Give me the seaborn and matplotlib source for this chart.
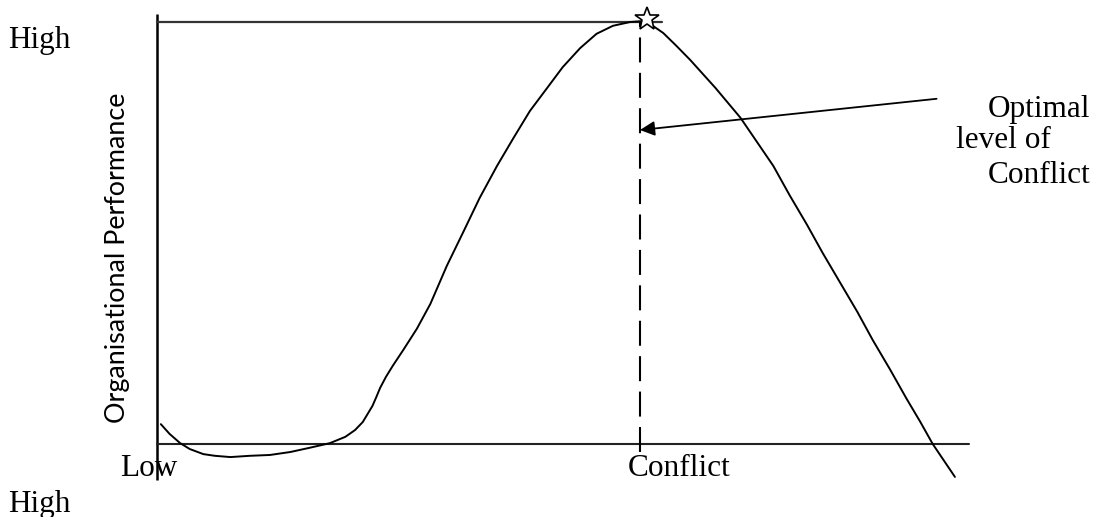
import matplotlib
matplotlib.use("Agg")
import matplotlib.pyplot as plt
import pandas as pd
import seaborn as sns

sns.set_theme(style="white")
plt.rcParams["font.family"] = ["Liberation Serif", "DejaVu Serif"]
plt.rcParams["text.color"] = "black"

# conflict level (0 = low, 5 = optimal) vs organisational performance (0..10)
conflict_level = [0.04, 0.13, 0.24, 0.34, 0.48, 0.60, 0.76, 0.96, 1.17, 1.38,
                  1.58, 1.79, 1.95, 2.05, 2.13, 2.18, 2.23, 2.27, 2.31, 2.37,
                  2.44, 2.55, 2.69, 2.83, 3.00, 3.17, 3.34, 3.52, 3.69, 3.86,
                  4.04, 4.20, 4.38, 4.55, 4.72, 4.90, 5.02, 5.12, 5.24, 5.37,
                  5.52, 5.78, 6.04, 6.21, 6.38, 6.55, 6.73, 6.89, 7.07, 7.25,
                  7.41, 7.59, 7.76, 7.90, 8.03, 8.26]
performance = [0.47, 0.24, 0.02, -0.12, -0.24, -0.28, -0.31, -0.28, -0.26, -0.19,
               -0.09, 0.02, 0.17, 0.33, 0.52, 0.71, 0.90, 1.11, 1.33, 1.59,
               1.85, 2.23, 2.73, 3.32, 4.22, 5.02, 5.83, 6.59, 7.25, 7.89,
               8.44, 8.93, 9.38, 9.72, 9.91, 10.00, 10.02, 9.93, 9.74, 9.45,
               9.10, 8.44, 7.73, 7.16, 6.59, 5.89, 5.19, 4.53, 3.83, 3.13,
               2.46, 1.76, 1.07, 0.53, 0.00, -0.78]
optimal_conflict = 5.0
peak_performance = 10.0

y_label = "Organisational Performance"
note_lines = ["Optimal", "level of", "Conflict"]

df = pd.DataFrame({"conflict": conflict_level, "performance": performance})

fig = plt.figure(figsize=(10.98, 5.17), dpi=100)
ax = fig.add_axes([0, 0, 1, 1])
ax.set_xlim(-1.625, 9.741)
ax.set_ylim(-1.730, 10.521)
ax.axis("off")

# frame lines
ax.plot([0, 0], [-0.85, 10.19], color="black", lw=1.8, solid_capstyle="butt")
ax.plot([0, 5.23], [peak_performance, peak_performance], color="#333333", lw=1.6)
ax.plot([0, 8.41], [0, 0], color="#222222", lw=1.5)

# optimal conflict marker line
ax.plot([optimal_conflict, optimal_conflict], [-0.19, peak_performance],
        color="black", lw=1.5, linestyle=(0, (12, 5)))

sns.lineplot(data=df, x="conflict", y="performance", sort=False,
             estimator=None, color="black", lw=1.4, ax=ax)

ax.plot(5.07, 10.07, marker="*", ms=18, mfc="white", mec="black", mew=1.2)

ax.annotate("", xy=(optimal_conflict, 7.44), xytext=(8.07, 8.18),
            arrowprops=dict(arrowstyle="-|>", mutation_scale=22, lw=1.3,
                            color="black", shrinkA=0, shrinkB=0))

fs = 22.5
ax.text(-1.54, 9.38, "High", fontsize=fs, ha="left", va="baseline")
ax.text(-1.54, -1.60, "High", fontsize=fs, ha="left", va="baseline")
ax.text(-0.383, -0.758, "Low", fontsize=fs, ha="left", va="baseline")
ax.text(4.876, -0.758, "Conflict", fontsize=fs, ha="left", va="baseline")
ax.text(8.602, 7.75, note_lines[0], fontsize=fs, ha="left", va="baseline")
ax.text(8.271, 7.01, note_lines[1], fontsize=fs, ha="left", va="baseline")
ax.text(8.602, 6.19, note_lines[2], fontsize=fs, ha="left", va="baseline")

ax.text(-0.404, 4.42, y_label, fontsize=19.4, rotation=90, ha="center",
        va="center", family=["Lato", "DejaVu Sans"])

fig.savefig("out.png", dpi=100)
